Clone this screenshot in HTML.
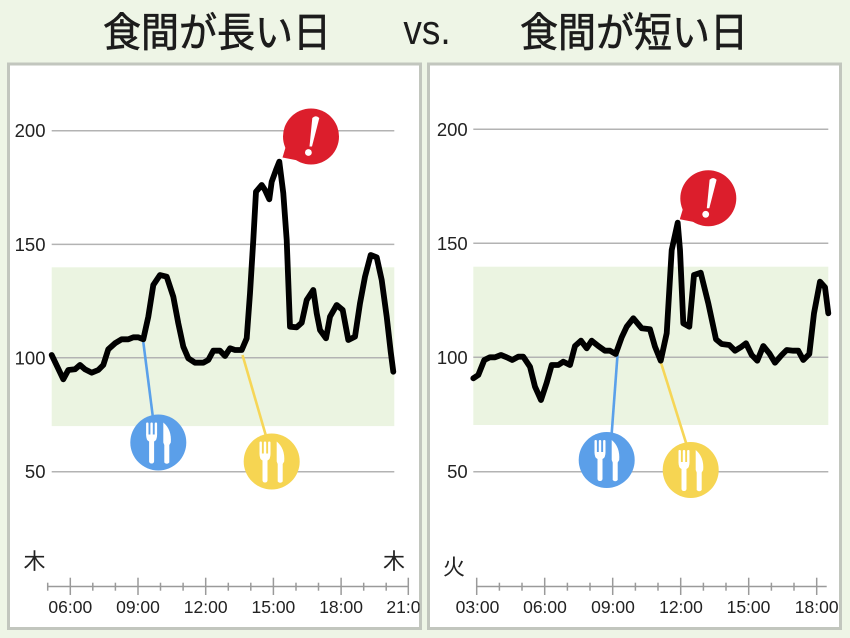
<!DOCTYPE html>
<html><head><meta charset="utf-8">
<style>
html,body{margin:0;padding:0;background:#eef5e6;}
svg{display:block;}
</style></head>
<body>
<svg width="850" height="638" viewBox="0 0 850 638" xmlns="http://www.w3.org/2000/svg">
<defs>
  <g id="uten">
    <rect x="-12.2" y="-20" width="2.4" height="13" rx="1" fill="#fff"/>
    <rect x="-7.9" y="-20" width="2.4" height="13" rx="1" fill="#fff"/>
    <rect x="-3.6" y="-20" width="2.4" height="13" rx="1" fill="#fff"/>
    <path d="M-12.2,-8 L-1.2,-8 Q-1.2,-2 -4.2,-1 L-9.2,-1 Q-12.2,-2 -12.2,-8 Z" fill="#fff"/>
    <rect x="-9.2" y="-3" width="5" height="24" rx="2.2" fill="#fff"/>
    <path d="M5,-20 Q13.5,-13 12.5,0 L11,2.5 L11,20 Q8.5,22.5 6,20 L6,2.5 L5,0 Z" fill="#fff"/>
  </g>
  <g id="alert">
    <circle cx="0" cy="0" r="28" fill="#dc1e2c"/>
    <polygon points="-24,6 -28.5,21 -13,24" fill="#dc1e2c"/>
    <path d="M1.3,-18.5 Q4.8,-22 8.3,-18.5 L1,10 L-1.5,10 Z" fill="#fff"/>
    <circle cx="-2.6" cy="16" r="3.4" fill="#fff"/>
  </g>
  <clipPath id="clipL"><rect x="10" y="66" width="409.5" height="561"/></clipPath>
  <clipPath id="clipR"><rect x="430" y="66" width="410" height="561"/></clipPath>
</defs>

<rect x="0" y="0" width="850" height="638" fill="#eef5e6"/>

<!-- Titles -->
<g fill="#1c1c1c">
  <text x="217" y="30" font-size="38" text-anchor="middle" dominant-baseline="central" font-family="'Noto Sans CJK JP',sans-serif" stroke="#1c1c1c" stroke-width="0.6" transform="translate(0 30) scale(1 1.06) translate(0 -30)">食間が長い日</text>
  <text x="427" y="44" font-size="42" text-anchor="middle" font-family="'Liberation Sans',sans-serif" transform="translate(427 0) scale(0.88 1) translate(-427 0)">vs.</text>
  <text x="634" y="30" font-size="38" text-anchor="middle" dominant-baseline="central" font-family="'Noto Sans CJK JP',sans-serif" stroke="#1c1c1c" stroke-width="0.6" transform="translate(0 30) scale(1 1.06) translate(0 -30)">食間が短い日</text>
</g>

<!-- Panels -->
<rect x="8.5" y="64" width="412" height="564.5" fill="#fff" stroke="#c2c6be" stroke-width="3"/>
<rect x="428.5" y="64" width="412" height="564.5" fill="#fff" stroke="#c2c6be" stroke-width="3"/>

<!-- LEFT CHART -->
<g clip-path="url(#clipL)">
  <rect x="51.7" y="267.3" width="342.6" height="158.8" fill="#ebf4e1"/>
  <g stroke="#b3b3b3" stroke-width="1.5">
    <line x1="51.7" y1="130.7" x2="394.3" y2="130.7"/>
    <line x1="51.7" y1="244.4" x2="394.3" y2="244.4"/>
    <line x1="51.7" y1="357.8" x2="394.3" y2="357.8"/>
    <line x1="51.7" y1="471.7" x2="394.3" y2="471.7"/>
  </g>
  <g font-family="'Liberation Sans',sans-serif" font-size="18.5" fill="#222" text-anchor="end" dominant-baseline="central">
    <text x="45.5" y="130.7">200</text>
    <text x="45.5" y="244.4">150</text>
    <text x="45.5" y="357.8">100</text>
    <text x="45.5" y="471.7">50</text>
  </g>
  <line x1="143.3" y1="342" x2="153" y2="418" stroke="#5aa0ea" stroke-width="2.6"/>
  <line x1="242.5" y1="355" x2="266" y2="436" stroke="#f6d657" stroke-width="2.6"/>
  <polyline fill="none" stroke="#000" stroke-width="5.8" stroke-linejoin="round" stroke-linecap="round"
    points="51.7,355 63.3,379.3 68.3,370 75,369.3 80,365 85,369.3 91.7,372.7 98.3,370 103.3,365 108.3,349.3 115,343.3 121.7,339.3 128.3,339.3 133.3,337.3 138.3,337.3 143.3,339.3 148.3,316.7 153.3,285 160,275 166.7,276.7 173.3,296.7 178.3,323.3 183.3,346.7 188.3,358.3 195,362.7 203.3,362.7 208.3,360 213.3,350.7 220,350.7 225,356 230,348.3 235,350 241.7,350 246.7,338.3 250,293.3 253.3,240 256,191.7 261.7,185 265,190 269.3,199.3 271.7,181.7 276,170 279.3,161.7 283.3,193.3 286.7,240 290,326.7 296.7,327.3 301.7,322.7 306.7,300 313.3,290 316.7,313.3 320,330 326,338.3 330,316.7 336.7,305 342.7,310 348.3,340 355,336.7 360,303.3 365,276.7 370.7,255 376.7,257.3 381.7,280 386.7,316.7 390.7,351.7 393.3,371.7"/>
  <circle cx="158.3" cy="442.5" r="28" fill="#5b9fe9"/>
  <use href="#uten" x="158.3" y="442.5"/>
  <circle cx="271.7" cy="461.5" r="28" fill="#f6d552"/>
  <use href="#uten" x="271.7" y="461.5"/>
  <use href="#alert" x="311" y="136.5"/>

  <g stroke="#9a9a9a" stroke-width="1.5">
    <line x1="47.7" y1="586.5" x2="408.3" y2="586.5"/>
    <line x1="47.7" y1="582.7" x2="47.7" y2="590.7"/>
    <line x1="70.3" y1="577.7" x2="70.3" y2="595"/>
    <line x1="92.8" y1="582.7" x2="92.8" y2="590.7"/>
    <line x1="115.4" y1="582.7" x2="115.4" y2="590.7"/>
    <line x1="138" y1="577.7" x2="138" y2="595"/>
    <line x1="160.5" y1="582.7" x2="160.5" y2="590.7"/>
    <line x1="183.1" y1="582.7" x2="183.1" y2="590.7"/>
    <line x1="205.7" y1="577.7" x2="205.7" y2="595"/>
    <line x1="228.3" y1="582.7" x2="228.3" y2="590.7"/>
    <line x1="250.8" y1="582.7" x2="250.8" y2="590.7"/>
    <line x1="273.4" y1="577.7" x2="273.4" y2="595"/>
    <line x1="296" y1="582.7" x2="296" y2="590.7"/>
    <line x1="318.5" y1="582.7" x2="318.5" y2="590.7"/>
    <line x1="341.1" y1="577.7" x2="341.1" y2="595"/>
    <line x1="363.7" y1="582.7" x2="363.7" y2="590.7"/>
    <line x1="386.2" y1="582.7" x2="386.2" y2="590.7"/>
    <line x1="408.3" y1="577.7" x2="408.3" y2="595"/>
  </g>
  <g font-family="'Liberation Sans',sans-serif" font-size="17.5" fill="#222" text-anchor="middle">
    <text x="70.3" y="613">06:00</text>
    <text x="138" y="613">09:00</text>
    <text x="205.7" y="613">12:00</text>
    <text x="273.4" y="613">15:00</text>
    <text x="341.1" y="613">18:00</text>
    <text x="408.3" y="613">21:00</text>
  </g>
  <g font-family="'Noto Sans CJK JP',sans-serif" font-size="22" fill="#222" text-anchor="middle" dominant-baseline="central">
    <text x="34.5" y="560">木</text>
    <text x="394" y="560">木</text>
  </g>
</g>

<!-- RIGHT CHART -->
<g clip-path="url(#clipR)">
  <rect x="473.3" y="266.7" width="355" height="158.3" fill="#ebf4e1"/>
  <g stroke="#b3b3b3" stroke-width="1.5">
    <line x1="473.3" y1="129.3" x2="828.3" y2="129.3"/>
    <line x1="473.3" y1="243.3" x2="828.3" y2="243.3"/>
    <line x1="473.3" y1="357.3" x2="828.3" y2="357.3"/>
    <line x1="473.3" y1="471.7" x2="828.3" y2="471.7"/>
  </g>
  <g font-family="'Liberation Sans',sans-serif" font-size="18.5" fill="#222" text-anchor="end" dominant-baseline="central">
    <text x="467.7" y="129.3">200</text>
    <text x="467.7" y="243.3">150</text>
    <text x="467.7" y="357.3">100</text>
    <text x="467.7" y="471.7">50</text>
  </g>
  <line x1="617.5" y1="355" x2="611.5" y2="436" stroke="#5aa0ea" stroke-width="2.6"/>
  <line x1="660.7" y1="361.7" x2="686.7" y2="445" stroke="#f6d657" stroke-width="2.6"/>
  <polyline fill="none" stroke="#000" stroke-width="5.8" stroke-linejoin="round" stroke-linecap="round"
    points="473.3,378.3 478.3,375 484.3,360 490,357.3 495,357.3 501,355 506.7,357.3 512.3,360 518.3,356.7 523.3,356.7 530,366.7 535,386.7 541,400 546.7,382.7 551.7,365 558.3,365 563.3,361.7 570,365 575,346 581,340.7 586.7,348.3 591.7,340.7 598.3,346 605,350.7 610,350.7 615.7,354 621.7,337.3 626.7,326.7 633.3,318.3 641.7,328.3 650,329.3 655,346.7 660.7,360.7 666.7,333.3 671.7,250 677.7,222.7 680,250 683.3,323.3 689.3,326.7 694,275 700.7,272.7 708.3,303.3 716,339.3 721.7,344 729.3,345 735,350.7 740.7,347.3 746,343.3 751.7,355 757.3,360.7 763.3,346 769.3,353.3 775,362.7 781.7,355 786.7,350 793.3,350.7 798.3,350.7 803.3,360 809.3,354 814,313.3 820,281.7 825,287.3 828.3,313.3"/>
  <circle cx="606.7" cy="460" r="28" fill="#5b9fe9"/>
  <use href="#uten" x="606.7" y="460"/>
  <circle cx="690.7" cy="470" r="28" fill="#f6d552"/>
  <use href="#uten" x="690.7" y="470"/>
  <use href="#alert" x="708.3" y="198.3"/>

  <g stroke="#9a9a9a" stroke-width="1.5">
    <line x1="476.7" y1="586.5" x2="826.7" y2="586.5"/>
    <line x1="476.7" y1="577.7" x2="476.7" y2="595"/>
    <line x1="499.4" y1="582.7" x2="499.4" y2="590.7"/>
    <line x1="522" y1="582.7" x2="522" y2="590.7"/>
    <line x1="544.7" y1="577.7" x2="544.7" y2="595"/>
    <line x1="567.4" y1="582.7" x2="567.4" y2="590.7"/>
    <line x1="590" y1="582.7" x2="590" y2="590.7"/>
    <line x1="612.7" y1="577.7" x2="612.7" y2="595"/>
    <line x1="635.4" y1="582.7" x2="635.4" y2="590.7"/>
    <line x1="658" y1="582.7" x2="658" y2="590.7"/>
    <line x1="680.7" y1="577.7" x2="680.7" y2="595"/>
    <line x1="703.4" y1="582.7" x2="703.4" y2="590.7"/>
    <line x1="726" y1="582.7" x2="726" y2="590.7"/>
    <line x1="748.7" y1="577.7" x2="748.7" y2="595"/>
    <line x1="771.4" y1="582.7" x2="771.4" y2="590.7"/>
    <line x1="794" y1="582.7" x2="794" y2="590.7"/>
    <line x1="816.7" y1="577.7" x2="816.7" y2="595"/>
  </g>
  <g font-family="'Liberation Sans',sans-serif" font-size="17.5" fill="#222" text-anchor="middle">
    <text x="477.5" y="613">03:00</text>
    <text x="545" y="613">06:00</text>
    <text x="613" y="613">09:00</text>
    <text x="681" y="613">12:00</text>
    <text x="748.5" y="613">15:00</text>
    <text x="816.7" y="613">18:00</text>
  </g>
  <text x="454" y="566" font-family="'Noto Sans CJK JP',sans-serif" font-size="22" fill="#222" text-anchor="middle" dominant-baseline="central">火</text>
</g>
</svg>
</body></html>
